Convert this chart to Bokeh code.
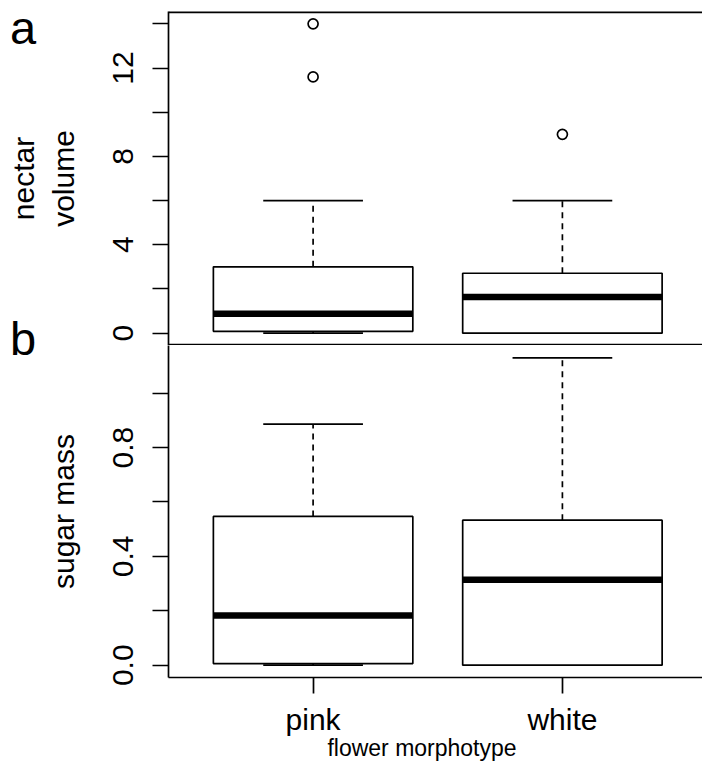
from bokeh.plotting import figure
from bokeh.models import (ColumnDataSource, Range1d, FixedTicker, PrintfTickFormatter,
                          Span, GridBox, Div, Column)
from bokeh.embed import file_html
from bokeh.resources import INLINE

# ---------------- data ----------------
categories = ["pink", "white"]

# panel a: nectar volume
nectar_lower = [0.0, 0.0]
nectar_q1 = [0.08, 0.0]
nectar_median = [0.88, 1.63]
nectar_q3 = [3.0, 2.71]
nectar_upper = [6.0, 6.0]
nectar_outlier_group = ["pink", "pink", "white"]
nectar_outlier_value = [14.0, 11.6, 9.0]

# panel b: sugar mass
sugar_lower = [0.0, 0.0]
sugar_q1 = [0.006, 0.0]
sugar_median = [0.183, 0.314]
sugar_q3 = [0.547, 0.533]
sugar_upper = [0.886, 1.13]
sugar_outlier_group = []
sugar_outlier_value = []

nectar_ticks = [0, 4, 8, 12]
nectar_minor = [2, 6, 10, 14]
sugar_ticks = [0.0, 0.4, 0.8]
sugar_minor = [0.2, 0.6, 1.0]

# ---------------- layout constants ----------------
FONT = "Liberation Sans"
W, H = 702, 764
LEFT = 168
BOXW = 0.8
CAPW = 0.4
LW = 1.7
XR = (0.42, 0.42 + 2.16 * (W - LEFT) / 538.5)


def yrange(vals):
    lo, hi = min(vals), max(vals)
    pad = 0.04 * (hi - lo)
    return (lo - pad, hi + pad)


def style_axis(ax):
    ax.axis_line_width = LW
    ax.axis_line_color = "black"
    ax.major_tick_line_width = LW
    ax.major_tick_line_color = "black"
    ax.minor_tick_line_width = LW
    ax.minor_tick_line_color = "black"
    ax.major_tick_out = 16
    ax.major_tick_in = 0
    ax.minor_tick_out = 16
    ax.minor_tick_in = 0
    ax.major_label_text_font = FONT
    ax.major_label_text_font_size = "30px"
    ax.major_label_text_color = "black"
    ax.axis_label_text_font = FONT
    ax.axis_label_text_font_size = "30px"
    ax.axis_label_text_font_style = "normal"
    ax.axis_label_text_color = "black"


def panel(border_top, frame_h, border_bottom, lower, q1, med, q3, upper, og, ov,
          ticks, minor, label, fmt, with_x):
    yr = yrange(lower + upper + ov)
    p = figure(frame_width=W - LEFT, frame_height=frame_h,
               x_range=Range1d(*XR), y_range=Range1d(*yr),
               output_backend="svg", toolbar_location=None,
               min_border_left=LEFT, min_border_right=0,
               min_border_top=border_top, min_border_bottom=border_bottom,
               x_axis_location="below" if with_x else None,
               outline_line_color=None,
               background_fill_color="white", border_fill_color="white")
    p.xgrid.visible = False
    p.ygrid.visible = False

    xs = [i + 1 for i in range(len(categories))]
    src = ColumnDataSource(dict(
        x=xs, lo=lower, q1=q1, med=med, q3=q3, hi=upper,
        cx0=[x - CAPW / 2 for x in xs], cx1=[x + CAPW / 2 for x in xs]))

    p.segment(x0="x", y0="q3", x1="x", y1="hi", source=src, line_color="black",
              line_width=LW, line_dash="6 5")
    p.segment(x0="x", y0="q1", x1="x", y1="lo", source=src, line_color="black",
              line_width=LW, line_dash="6 5")
    p.segment(x0="cx0", y0="hi", x1="cx1", y1="hi", source=src, line_color="black",
              line_width=LW)
    p.segment(x0="cx0", y0="lo", x1="cx1", y1="lo", source=src, line_color="black",
              line_width=LW)
    p.vbar(x="x", width=BOXW, bottom="q1", top="q3", source=src,
           fill_color="white", line_color="black", line_width=LW)
    p.rect(x="x", y="med", width=BOXW, height=6.5, height_units="screen",
           source=src, fill_color="black", line_color=None)
    if ov:
        ox = [categories.index(g) + 1 for g in og]
        p.scatter(x=ox, y=ov, marker="circle", size=10, fill_color=None,
                  line_color="black", line_width=LW)

    ya = p.yaxis[0]
    style_axis(ya)
    ya.ticker = FixedTicker(ticks=ticks, minor_ticks=minor)
    ya.major_label_orientation = "vertical"
    ya.major_label_standoff = 19
    ya.axis_label = label
    ya.axis_label_standoff = 31
    ya.axis_label_text_line_height = 1.2
    if fmt:
        ya.formatter = PrintfTickFormatter(format=fmt)

    if with_x:
        xa = p.xaxis[0]
        style_axis(xa)
        xa.ticker = FixedTicker(ticks=xs, minor_ticks=[])
        xa.major_label_overrides = {x: c for x, c in zip(xs, categories)}
        xa.major_label_standoff = 9
    return p, yr


# panel a: frame from y=11 to y=345; panel b: frame from y=345 to y=677
pa, yra = panel(11, 334, 0, nectar_lower, nectar_q1, nectar_median, nectar_q3,
                nectar_upper, nectar_outlier_group, nectar_outlier_value,
                nectar_ticks, nectar_minor, "nectar\nvolume", None, False)
pb, yrb = panel(0, 332, H - 345 - 332, sugar_lower, sugar_q1, sugar_median, sugar_q3,
                sugar_upper, sugar_outlier_group, sugar_outlier_value,
                sugar_ticks, sugar_minor, "sugar mass", "%.1f", True)

# box borders: top of panel a and the line between the panels
pa.add_layout(Span(location=yra[1], dimension="width", line_color="black", line_width=2 * LW))
pa.add_layout(Span(location=yra[0], dimension="width", line_color="black", line_width=2 * LW))

plots = Column(children=[pa, pb], spacing=0)

# overlay text: panel letters and x title
txt = (
    f'<div style="position:relative;width:{W}px;height:{H}px;font-family:\'{FONT}\';color:black;">'
    '<span style="position:absolute;left:10px;top:4px;font-size:47px;line-height:47px;">a</span>'
    '<span style="position:absolute;left:10px;top:315px;font-size:47px;line-height:47px;">b</span>'
    '<span style="position:absolute;left:222px;width:400px;text-align:center;top:737px;'
    'font-size:23px;line-height:23px;">flower morphotype</span>'
    '</div>'
)
overlay = Div(text=txt, width=W, height=H, margin=(0, 0, 0, 0))

grid = GridBox(children=[(plots, 0, 0), (overlay, 0, 0)])
open("out.html", "w").write(file_html(grid, INLINE))
